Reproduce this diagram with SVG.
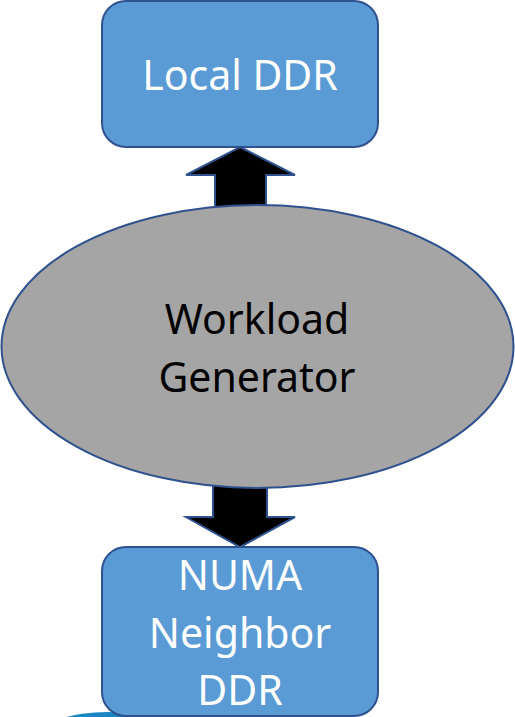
<svg xmlns="http://www.w3.org/2000/svg" width="515" height="717" viewBox="0 0 515 717">
  <style>
    .box { fill: #5b9bd5; stroke: #2f528f; stroke-width: 2; }
    .gen { fill: #a5a5a5; stroke: #2f528f; stroke-width: 2; }
    .arrow { fill: #000000; stroke: #2f528f; stroke-width: 2; stroke-linejoin: miter; }
    .lbl { font-family: "Noto Sans", "Open Sans", sans-serif; font-size: 41px; text-anchor: middle; }
    .white { fill: #ffffff; }
    .dark { fill: #000000; }
  </style>
  <rect width="515" height="717" fill="#ffffff"/>

  <!-- partially visible blue shape at the lower left edge -->
  <ellipse cx="108" cy="736" rx="68" ry="24" fill="#1b86c3"/>

  <!-- connectors: block arrows between the generator and both memories -->
  <g id="connectors">
    <path class="arrow" d="M240,147 L295,175 L266,175 L266,215 L215,215 L215,175 L186,175 Z"/>
    <path class="arrow" d="M240,547 L295,517 L267,517 L267,478 L213,478 L213,517 L186,517 Z"/>
  </g>

  <g id="local-ddr">
    <rect class="box" x="102" y="1" width="276" height="146" rx="24" ry="24"/>
    <text class="lbl white" x="240" y="90">Local DDR</text>
  </g>

  <g id="workload-generator">
    <ellipse class="gen" cx="257.5" cy="346.5" rx="256" ry="141.5"/>
    <text class="lbl dark" x="257" y="334">Workload</text>
    <text class="lbl dark" x="257" y="392">Generator</text>
  </g>

  <g id="numa-neighbor-ddr">
    <rect class="box" x="102" y="547" width="276" height="169" rx="24" ry="24"/>
    <text class="lbl white" x="240" y="590">NUMA</text>
    <text class="lbl white" x="240" y="648">Neighbor</text>
    <text class="lbl white" x="240" y="705">DDR</text>
  </g>
</svg>
